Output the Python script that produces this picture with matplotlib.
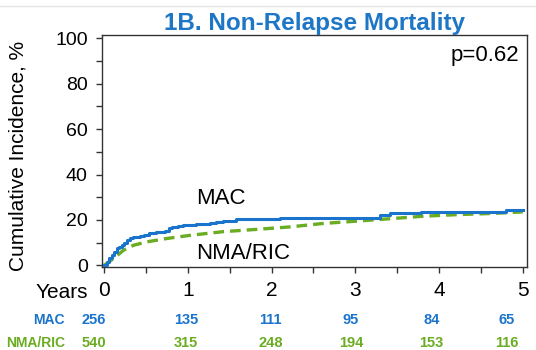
import matplotlib
matplotlib.use("Agg")
import matplotlib.pyplot as plt
from matplotlib.lines import Line2D
from matplotlib.ticker import MultipleLocator

# cumulative incidence curves (years, %)
mac_years = [0, 0.03, 0.06, 0.09, 0.12, 0.15, 0.18, 0.21, 0.24, 0.27, 0.31,
             0.35, 0.39, 0.43, 0.47, 0.53, 0.62, 0.73, 0.77, 0.81, 0.88,
             0.94, 1.02, 1.10, 1.18, 1.26, 1.34, 1.42, 1.50, 1.58, 1.74,
             2.10, 2.60, 3.05, 3.30, 3.41, 3.79, 4.30, 4.80, 5.0]
mac_inc = [0, 1.5, 3.0, 4.5, 6.0, 7.4, 8.1, 8.8, 10.0, 11.0, 11.8,
           12.3, 12.6, 13.0, 13.3, 14.4, 14.8, 15.1, 16.2, 16.9, 17.2,
           17.6, 17.8, 18.0, 18.3, 18.6, 18.9, 19.3, 19.6, 20.2, 20.6,
           20.7, 20.8, 21.0, 22.3, 23.0, 23.4, 23.5, 24.3, 24.3]

nma_years = [0, 0.11, 0.23, 0.35, 0.51, 0.75, 1.03, 1.42, 1.82, 2.22, 2.61,
             3.0, 3.41, 3.81, 4.21, 4.61, 5.0]
nma_inc = [0, 2.9, 6.6, 8.8, 10.3, 11.8, 13.2, 14.8, 15.8, 16.9, 18.4,
           19.4, 20.5, 21.6, 22.3, 22.8, 23.5]

# numbers at risk
risk_years = [0, 1, 2, 3, 4, 5]
mac_at_risk = [256, 135, 111, 95, 84, 65]
nma_at_risk = [540, 315, 248, 194, 153, 116]

BLUE = "#1a74cc"
GREEN = "#6aac22"
TITLE_BLUE = "#1d76c6"

plt.rcParams["font.family"] = ["Liberation Sans", "DejaVu Sans"]

fig = plt.figure(figsize=(5.36, 3.5), dpi=100)
ax = fig.add_axes([0.1897, 0.237, 0.7933, 0.663])

ax.step(mac_years, mac_inc, where="post", color=BLUE, lw=2.2, zorder=3)
ax.plot(nma_years, nma_inc, color=GREEN, lw=2.4, dashes=(3.2, 1.8), zorder=2)

ax.set_xlim(-0.03, 5.05)
ax.set_ylim(-0.8, 101.5)
ax.xaxis.set_major_locator(MultipleLocator(1))
ax.xaxis.set_minor_locator(MultipleLocator(0.5))
ax.yaxis.set_major_locator(MultipleLocator(20))
ax.yaxis.set_minor_locator(MultipleLocator(10))
ax.tick_params(axis="both", which="both", direction="out", length=4,
               width=1, color="#333333")
ax.tick_params(axis="y", labelsize=14, pad=6)
ax.tick_params(axis="x", labelsize=15, pad=6)
for sp in ax.spines.values():
    sp.set_color("#333333")
    sp.set_linewidth(1)

ax.set_ylabel("Cumulative Incidence, %", fontsize=15)
ax.yaxis.set_label_coords(-0.175, 0.478)
ax.set_title("1B. Non-Relapse Mortality", color=TITLE_BLUE, fontsize=17.5,
             fontweight="bold", pad=1)

ax.text(1.40, 29.5, "MAC", fontsize=16, ha="center", va="center")
ax.text(1.66, 5.3, "NMA/RIC", fontsize=16, ha="center", va="center")
ax.text(0.983, 0.91, "p=0.62", transform=ax.transAxes, fontsize=16,
        ha="right", va="center")

fig.text(88 / 536, 1 - 292 / 350, "Years", fontsize=15, ha="right",
         va="center")

# risk table under the axis
row_y = [1 - 320 / 350, 1 - 343 / 350]
col_shift = [-0.12, -0.02, -0.01, -0.05, -0.09, -0.19]
for y, name, counts, col in [(row_y[0], "MAC", mac_at_risk, BLUE),
                             (row_y[1], "NMA/RIC", nma_at_risk, GREEN)]:
    fig.text(65 / 536, y, name, fontsize=10, fontweight="bold", color=col,
             ha="right", va="center")
    for yr, n, dx in zip(risk_years, counts, col_shift):
        px = ax.transData.transform((yr + dx, 0))[0] / fig.bbox.width
        fig.text(px, y, str(n), fontsize=10.5, fontweight="bold", color=col,
                 ha="center", va="center")

# faint rule along the top edge
fig.add_artist(Line2D([0, 1], [1 - 6 / 350] * 2, color="#e4e4e4", lw=1))

fig.savefig("out.png", dpi=100)
